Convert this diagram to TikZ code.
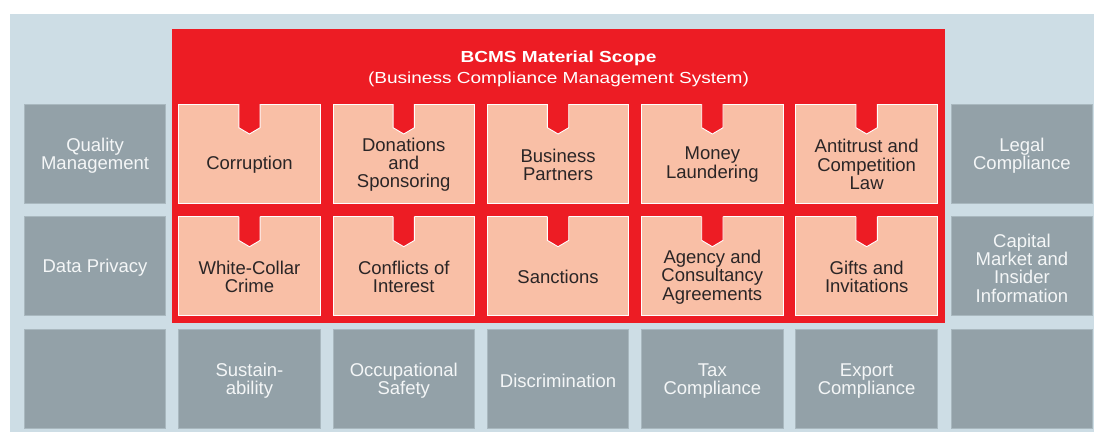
\documentclass[tikz,border=0pt]{standalone}
\usepackage{fontspec}
\setmainfont{Liberation Sans}
\newfontfamily\titlefont[FakeStretch=1.19]{Liberation Sans}
\usetikzlibrary{calc}
\definecolor{bgblue}{HTML}{CDDDE5}
\definecolor{boxgray}{HTML}{93A1A8}
\definecolor{grayedge}{HTML}{A9B8BF}
\definecolor{scopered}{HTML}{ED1C24}
\definecolor{salmon}{HTML}{F9BFA6}
\definecolor{darktext}{HTML}{2A2526}
\definecolor{lighttext}{HTML}{F4F6F7}
\tikzset{
  cell/.style={rectangle, anchor=north west, inner sep=0pt, outer sep=0pt,
    minimum width=141.5pt, minimum height=99pt, line width=0.9pt},
  graybox/.style={cell, fill=boxgray, draw=grayedge},
  salmonbox/.style={cell, fill=salmon, draw=white},
  redbox/.style={rectangle, anchor=north west, inner sep=0pt, outer sep=0pt,
    minimum width=773pt, minimum height=294pt, fill=scopered},
  itemtext/.style={align=center, inner sep=0pt, text=darktext,
    font=\fontsize{18.5}{18.2}\selectfont},
  graytext/.style={align=center, inner sep=0pt, text=lighttext,
    font=\fontsize{18.5}{18.2}\selectfont},
  titletext/.style={anchor=base, inner sep=0pt, text=white,
    font=\titlefont\fontsize{16}{18}\selectfont},
  notch/.style={fill=scopered},
  notchedge/.style={draw=white, line width=0.9pt},
}
\newcommand{\notchat}[1]{%
  \fill[notch] ($(#1.north)+(-10.65,-1)$) -- ($(#1.north)+(-10.65,23.7)$)
    -- ($(#1.north)+(0,30)$) -- ($(#1.north)+(10.65,23.7)$)
    -- ($(#1.north)+(10.65,-1)$) -- cycle;
  \draw[notchedge] ($(#1.north)+(-10.65,0)$) -- ($(#1.north)+(-10.65,23.7)$)
    -- ($(#1.north)+(0,30)$) -- ($(#1.north)+(10.65,23.7)$)
    -- ($(#1.north)+(10.65,0)$);
}
\begin{document}
\begin{tikzpicture}[x=1pt,y=-1pt]
\useasboundingbox (0,0) rectangle (1094,432);
\fill[white] (0,0) rectangle (1094,432);
\fill[bgblue] (10,14) rectangle (1094,432);

% red scope area
\node[redbox] (scope) at (172,29) {};
\node[titletext] (title) at (558.5,62.3) {\bfseries BCMS Material Scope};
\node[titletext] (subtitle) at (558.5,83.3) {(Business Compliance Management System)};

% left column
\node[graybox] (quality) at (24.3,104) {};
\node[graybox] (privacy) at (24.3,216.7) {};
\node[graybox] (blankL) at (24.3,329.3) {};
\node[graytext] (tquality) at ($(quality.center)+(0,2)$) {Quality\\Management};
\node[graytext] (tprivacy) at ($(privacy.center)+(0,2)$) {Data Privacy};

% right column
\node[graybox] (legal) at (951.2,104) {};
\node[graybox] (capital) at (951.2,216.7) {};
\node[graybox] (blankR) at (951.2,329.3) {};
\node[graytext] (tlegal) at ($(legal.center)+(0,2)$) {Legal\\Compliance};
\node[graytext] (tcapital) at ($(capital.center)+(0,2)$) {Capital\\Market and\\Insider\\Information};

% salmon row 1
\node[salmonbox] (corr) at (178.7,104) {};
\node[salmonbox] (don) at (333.0,104) {};
\node[salmonbox] (bp) at (487.3,104) {};
\node[salmonbox] (money) at (641.6,104) {};
\node[salmonbox] (anti) at (795.9,104) {};
% salmon row 2
\node[salmonbox] (white) at (178.7,216.7) {};
\node[salmonbox] (conf) at (333.0,216.7) {};
\node[salmonbox] (sanc) at (487.3,216.7) {};
\node[salmonbox] (agency) at (641.6,216.7) {};
\node[salmonbox] (gifts) at (795.9,216.7) {};

\foreach \n in {corr,don,bp,money,anti,white,conf,sanc,agency,gifts}{\notchat{\n}}

\node[itemtext] (tcorr) at ($(corr.center)+(0,11)$) {Corruption};
\node[itemtext] (tdon) at ($(don.center)+(0,11)$) {Donations\\and\\Sponsoring};
\node[itemtext] (tbp) at ($(bp.center)+(0,11)$) {Business\\Partners};
\node[itemtext] (tmoney) at ($(money.center)+(0,11)$) {Money\\Laundering};
\node[itemtext] (tanti) at ($(anti.center)+(0,11)$) {Antitrust and\\Competition\\Law};
\node[itemtext] (twhite) at ($(white.center)+(0,11)$) {White-Collar\\Crime};
\node[itemtext] (tconf) at ($(conf.center)+(0,11)$) {Conflicts of\\Interest};
\node[itemtext] (tsanc) at ($(sanc.center)+(0,11)$) {Sanctions};
\node[itemtext] (tagency) at ($(agency.center)+(0,11)$) {Agency and\\Consultancy\\Agreements};
\node[itemtext] (tgifts) at ($(gifts.center)+(0,11)$) {Gifts and\\Invitations};

% bottom row
\node[graybox] (sust) at (178.7,329.3) {};
\node[graybox] (occ) at (333.0,329.3) {};
\node[graybox] (disc) at (487.3,329.3) {};
\node[graybox] (tax) at (641.6,329.3) {};
\node[graybox] (export) at (795.9,329.3) {};
\node[graytext] (tsust) at ($(sust.center)+(0,2)$) {Sustain-\\ability};
\node[graytext] (tocc) at ($(occ.center)+(0,2)$) {Occupational\\Safety};
\node[graytext] (tdisc) at ($(disc.center)+(0,2)$) {Discrimination};
\node[graytext] (ttax) at ($(tax.center)+(0,2)$) {Tax\\Compliance};
\node[graytext] (texport) at ($(export.center)+(0,2)$) {Export\\Compliance};
\end{tikzpicture}
\end{document}
